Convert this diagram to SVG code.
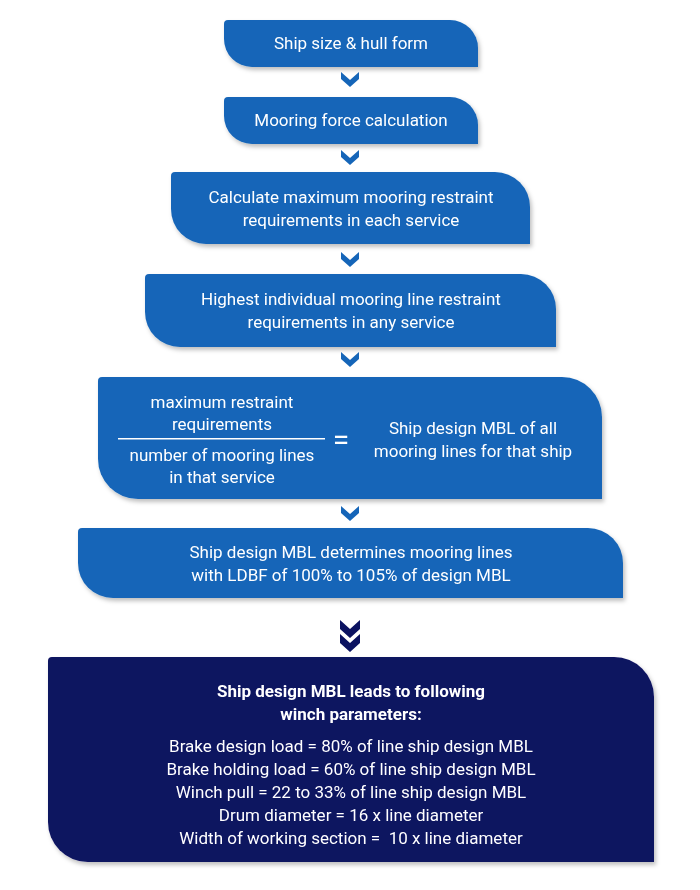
<svg xmlns="http://www.w3.org/2000/svg" width="700" height="890" viewBox="0 0 700 890">
<defs>
<style>
.b{fill:#1565b8}
.d{fill:#0b1261}
.t{font-family:Roboto,"Liberation Sans",sans-serif;font-size:17px;fill:#fff;text-anchor:middle}
.bt{font-weight:bold}
.c{fill:#1565b8}
</style>
<filter id="sh" x="-5%" y="-5%" width="110%" height="120%"><feDropShadow dx="2" dy="3" stdDeviation="2" flood-opacity="0.25"/></filter>
</defs>
<rect width="700" height="890" fill="#fff"/>
<g id="connectors">
<path class="c" d="M341,72 L350,80 L359,72 L359,79 L350,87 L341,79Z"/>
<path class="c" d="M341,150 L350,158 L359,150 L359,157 L350,165 L341,157Z"/>
<path class="c" d="M341,252 L350,260 L359,252 L359,259 L350,267 L341,259Z"/>
<path class="c" d="M341,352 L350,360 L359,352 L359,359 L350,367 L341,359Z"/>
<path class="c" d="M341,506 L350,514 L359,506 L359,513 L350,521 L341,513Z"/>
<path class="d" d="M340,620 L350,629 L360,620 L360,629 L350,638 L340,629Z"/>
<path class="d" d="M340,634 L350,643 L360,634 L360,643 L350,652 L340,643Z"/>
</g>
<g id="n1" filter="url(#sh)"><path class="b" d="M228,20 H450 A28,28 0 0 1 478,48 V67 H252 A28,28 0 0 1 224,39 V24 Q224,20 228,20Z"/><text class="t" x="351" y="49">Ship size &amp; hull form</text></g>
<g id="n2" filter="url(#sh)"><path class="b" d="M228,97 H450 A28,28 0 0 1 478,125 V144 H252 A28,28 0 0 1 224,116 V101 Q224,97 228,97Z"/><text class="t" x="351" y="126">Mooring force calculation</text></g>
<g id="n3" filter="url(#sh)"><path class="b" d="M175,172 H495 A35,35 0 0 1 530,207 V244 H206 A35,35 0 0 1 171,209 V176 Q171,172 175,172Z"/><text class="t" x="351" y="203">Calculate maximum mooring restraint</text><text class="t" x="351" y="226">requirements in each service</text></g>
<g id="n4" filter="url(#sh)"><path class="b" d="M149,274 H521 A35,35 0 0 1 556,309 V347 H180 A35,35 0 0 1 145,312 V278 Q145,274 149,274Z"/><text class="t" x="351" y="305">Highest individual mooring line restraint</text><text class="t" x="351" y="328">requirements in any service</text></g>
<g id="n5" filter="url(#sh)"><path class="b" d="M102,377 H562 A40,40 0 0 1 602,417 V499 H138 A40,40 0 0 1 98,459 V381 Q98,377 102,377Z"/>
<text class="t" x="222" y="408">maximum restraint</text><text class="t" x="222" y="430">requirements</text>
<rect x="118" y="438" width="207" height="1.5" fill="#fff"/>
<text class="t" x="222" y="461">number of mooring lines</text><text class="t" x="222" y="483">in that service</text>
<text class="t" x="341" y="450" style="font-size:30px">=</text>
<text class="t" x="473" y="434">Ship design MBL of all</text><text class="t" x="473" y="457">mooring lines for that ship</text></g>
<g id="n6" filter="url(#sh)"><path class="b" d="M82,528 H588 A35,35 0 0 1 623,563 V598 H113 A35,35 0 0 1 78,563 V532 Q78,528 82,528Z"/><text class="t" x="351" y="558">Ship design MBL determines mooring lines</text><text class="t" x="351" y="581">with LDBF of 100% to 105% of design MBL</text></g>
<g id="n7" filter="url(#sh)"><path class="d" d="M52,657 H614 A40,40 0 0 1 654,697 V862 H88 A40,40 0 0 1 48,822 V661 Q48,657 52,657Z"/>
<text class="t bt" x="351" y="697">Ship design MBL leads to following</text>
<text class="t bt" x="351" y="720">winch parameters:</text>
<text class="t" x="351" y="752">Brake design load = 80% of line ship design MBL</text>
<text class="t" x="351" y="775">Brake holding load = 60% of line ship design MBL</text>
<text class="t" x="351" y="798">Winch pull = 22 to 33% of line ship design MBL</text>
<text class="t" x="351" y="821">Drum diameter = 16 x line diameter</text>
<text class="t" x="351" y="844" xml:space="preserve">Width of working section =  10 x line diameter</text></g>
</svg>
